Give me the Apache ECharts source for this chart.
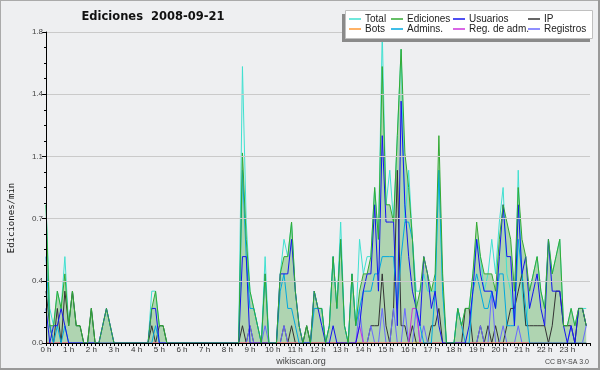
<!DOCTYPE html>
<html><head><meta charset="utf-8">
<script src="https://cdn.jsdelivr.net/npm/echarts@6/dist/echarts.min.js"></script>
<style>html,body{margin:0;padding:0;background:#eeeff1}#c{width:600px;height:370px}</style>
</head><body><div id="c"></div>
<script>
// 10-minute bins (144 per day), values in edits/min
const hourLabels = ['0 h','1 h','2 h','3 h','4 h','5 h','6 h','7 h','8 h','9 h','10 h','11 h',
  '12 h','13 h','14 h','15 h','16 h','17 h','18 h','19 h','20 h','21 h','22 h','23 h'];
const seriesNames = ['Total','Ediciones','Usuarios','IP','Bots','Admins.','Reg. de adm.','Registros'];

const total = [
 .8,.2,.1,.3,.2,.5,.1,.3,.1,.1,0,0,
 .2,0,0,.1,.2,.1,0,0,0,0,0,0,
 0,0,0,0,.3,.3,.1,.1,0,0,0,0,
 0,0,0,0,0,0,0,0,0,0,0,0,
 0,0,0,0,1.6,.7,.3,.2,.1,0,.5,0,
 0,0,.4,.6,.5,.7,.3,.1,0,.1,0,.3,
 .2,.2,0,.1,.5,.2,.7,.1,0,.4,.1,.6,
 .4,.5,.5,.9,.6,1.8,.8,1.0,.7,1.2,1.7,.7,
 1.0,.6,.3,.3,.4,.3,.3,.3,1.0,.3,0,0,
 0,.2,.1,.2,.2,.4,.6,.5,.3,.4,.6,.4,
 .7,.9,.4,.3,.1,1.0,.3,.1,.3,.4,.5,.3,
 .2,.6,.4,.5,.6,.1,.1,.2,.1,.2,.2,.2];
const ediciones = [
 .8,.1,.1,.3,.2,.4,.1,.3,.1,.1,0,0,
 .2,0,0,.1,.2,.1,0,0,0,0,0,0,
 0,0,0,0,.2,.3,.1,.1,0,0,0,0,
 0,0,0,0,0,0,0,0,0,0,0,0,
 0,0,0,0,1.1,.6,.3,.2,.1,0,.4,0,
 0,0,.4,.5,.5,.7,.3,.1,0,.1,0,.3,
 .2,.2,0,.1,.5,.2,.6,.1,0,.4,.1,.3,
 .4,.4,.5,.9,.6,1.6,.8,.8,.7,1.2,1.7,1.1,
 .9,.6,.2,.3,.5,.4,.3,.4,1.2,.4,0,0,
 0,.2,.1,.2,.2,.4,.7,.5,.4,.4,.4,.3,
 .6,.8,.7,.6,.3,.9,.6,.5,.3,.4,.5,.3,
 .2,.6,.4,.5,.6,.1,.1,.2,.1,.2,.2,.1];
const usuarios = [
 .2,0,.1,.1,.2,.1,0,0,0,0,0,0,
 0,0,0,.1,.2,.1,0,0,0,0,0,0,
 0,0,0,0,.2,.2,0,0,0,0,0,0,
 0,0,0,0,0,0,0,0,0,0,0,0,
 0,0,0,0,.5,.5,0,0,0,0,0,0,
 0,0,.4,.4,.4,.6,.3,.1,0,0,0,.3,
 .2,.1,0,0,.1,0,0,0,0,0,0,.1,
 .3,.4,.4,.8,.3,1.2,.7,.7,.7,.1,1.4,.8,
 .5,.3,.2,.1,.5,.4,.2,.3,.1,0,0,0,
 0,0,0,0,.1,.3,.6,.4,.3,.3,.3,.2,
 .5,.8,.5,.5,.1,.8,.4,.5,.2,.3,.4,.2,
 .1,.6,.3,.3,.3,.1,0,.1,0,.2,.2,.1];
const ip = [
 .3,.1,0,.2,0,.3,.1,.3,.1,.1,0,0,
 .2,0,0,0,0,0,0,0,0,0,0,0,
 0,0,0,0,.1,0,.1,.1,0,0,0,0,
 0,0,0,0,0,0,0,0,0,0,0,0,
 0,0,0,0,.1,0,.1,0,0,0,0,0,
 0,0,0,.1,0,.1,0,0,0,.1,0,0,
 0,0,0,0,0,0,0,0,0,0,0,0,
 0,0,.1,.1,.1,.4,.1,0,.2,1.0,.1,.1,
 0,.1,0,0,0,0,.1,.1,.2,0,0,0,
 0,0,0,.2,.2,0,0,.1,0,.1,0,.1,
 0,0,.1,.2,.2,.3,.4,.1,.1,.1,.1,.1,
 .1,0,.1,.3,.3,.1,.1,.1,0,.2,.2,.1];
const bots = new Array(144).fill(0);
const admins = [
 .5,.1,0,.1,0,.1,0,0,0,0,0,0,
 0,0,0,0,0,0,0,0,0,0,0,0,
 0,0,0,0,0,.1,0,0,0,0,0,0,
 0,0,0,0,0,0,0,0,0,0,0,0,
 0,0,0,0,1.0,.5,.2,.2,.1,0,.4,0,
 0,0,.3,.4,.2,.2,.1,0,0,0,0,.2,
 .2,.2,0,.1,.5,.2,.6,.1,0,.4,.1,.2,
 .3,.3,.3,.4,.4,.5,.5,.5,.5,.2,.5,.7,
 .7,.6,.2,.1,0,0,0,.3,1.0,.3,0,0,
 0,.2,.1,0,0,.3,.4,.3,.2,.2,.3,.2,
 .4,.4,.1,.1,.1,.6,.4,.2,0,0,0,0,
 0,0,0,0,0,0,0,0,0,0,0,0];
const regAdm = [
 0,0,0,0,0,0,0,0,0,0,0,0,
 0,0,0,0,0,0,0,0,0,0,0,0,
 0,0,0,0,0,0,0,0,0,0,0,0,
 0,0,0,0,0,0,0,0,0,0,0,0,
 0,0,0,0,0,0,0,0,0,0,0,0,
 0,0,0,0,0,0,0,0,0,0,0,0,
 0,0,0,0,0,0,0,0,0,0,0,.1,
 0,0,0,0,0,0,0,0,0,0,0,0,
 0,.2,.2,0,0,0,0,0,0,0,0,0,
 0,0,0,0,0,0,0,0,0,0,0,0,
 0,0,0,0,0,0,0,0,0,0,0,0,
 0,0,0,0,0,0,0,0,0,0,0,0];
const registros = [
 0,0,0,0,0,0,0,0,0,0,0,0,
 0,0,0,0,0,0,0,0,0,0,0,0,
 0,0,0,0,0,0,0,0,0,0,0,0,
 0,0,0,0,0,0,0,0,0,0,0,0,
 0,0,0,0,0,0,.1,0,0,0,.1,0,
 0,0,0,.1,0,0,0,0,0,0,0,0,
 0,0,0,0,0,0,0,0,0,0,0,.2,
 0,0,.1,0,0,.2,0,0,.2,0,0,.2,
 0,0,.2,0,.1,0,0,0,0,0,0,0,
 0,0,0,0,0,0,0,.1,0,0,.3,0,
 0,.1,0,0,0,.1,0,0,0,0,0,0,
 0,0,0,0,0,0,0,.1,0,0,0,.1];

const pairs = a => a.map((v, i) => [i, v]);
const lineSeries = (name, data, color, z) => ({
  name, type: 'line', data: pairs(data), showSymbol: false, symbol: 'none',
  color, lineStyle: { color, width: 1 }, z, animation: false
});

const chart = echarts.init(document.getElementById('c'), null, { renderer: 'canvas' });
const F = 'Liberation Sans, Arial, sans-serif';
const legendCol = (left, names) => ({
  orient: 'vertical', left, top: 14, padding: 0, itemGap: 0, itemWidth: 12, itemHeight: 1.5,
  icon: 'rect', selectedMode: false, z: 60, data: names,
  textStyle: { fontFamily: F, fontSize: 10, color: '#222', lineHeight: 10, padding: [0, 0, 0, -1] }
});
chart.setOption({
  backgroundColor: '#eeeff1',
  animation: false,
  grid: { left: 46, right: 10, top: 32, bottom: 27 },
  legend: [
    legendCol(349, ['Total', 'Bots']),
    legendCol(391, ['Ediciones', 'Admins.']),
    legendCol(453, ['Usuarios', 'Reg. de adm.']),
    legendCol(528, ['IP', 'Registros'])
  ],
  xAxis: {
    type: 'value', min: 0, max: 144, interval: 6, z: 10,
    axisLine: { lineStyle: { color: '#000', width: 1 } },
    axisTick: { show: true, length: 3, lineStyle: { color: '#000' } },
    minorTick: { show: true, splitNumber: 6, length: 3, lineStyle: { color: '#000' } },
    splitLine: { show: false },
    axisLabel: { fontFamily: F, fontSize: 8, color: '#333', margin: 3,
      formatter: v => hourLabels[v / 6] || '' }
  },
  yAxis: {
    type: 'value', min: 0, max: 1.8, interval: 0.36, z: 10,
    axisLine: { show: true, lineStyle: { color: '#000', width: 1 } },
    axisTick: { show: true, length: 4, lineStyle: { color: '#000' } },
    minorTick: { show: true, splitNumber: 4, length: 2, lineStyle: { color: '#000' } },
    splitLine: { show: true, lineStyle: { color: '#cacaca', width: 1 } },
    axisLabel: { fontFamily: F, fontSize: 8, color: '#444', margin: 3,
      formatter: v => v.toFixed(1) }
  },
  series: [
    { name: 'Ediciones', type: 'line', data: pairs(ediciones), showSymbol: false, symbol: 'none',
      color: '#33aa33', lineStyle: { width: 0, color: '#33aa33' },
      areaStyle: { color: 'rgba(50,160,50,0.48)' }, z: 1 },
    lineSeries('Total', total, '#40e0d0', 2),
    lineSeries('IP', ip, '#333333', 3),
    lineSeries('Registros', registros, '#6a6aff', 3),
    lineSeries('Reg. de adm.', regAdm, '#cc33dd', 3),
    lineSeries('Bots', bots, '#ff9933', 3),
    lineSeries('Admins.', admins, '#00a8e0', 4),
    lineSeries('Usuarios', usuarios, '#1515ee', 5),
    lineSeries('Ediciones', ediciones, '#33aa33', 6)
  ],
  graphic: [
    { type: 'line', shape: { x1: 0.5, y1: 0, x2: 0.5, y2: 370 }, style: { stroke: '#aaa', lineWidth: 1 }, z: 90 },
    { type: 'line', shape: { x1: 0, y1: 0.5, x2: 600, y2: 0.5 }, style: { stroke: '#aaa', lineWidth: 1 }, z: 90 },
    { type: 'rect', shape: { x: 598, y: 0, width: 2, height: 370 }, style: { fill: '#999' }, z: 90 },
    { type: 'rect', shape: { x: 0, y: 368, width: 600, height: 2 }, style: { fill: '#999' }, z: 90 },
    { type: 'rect', shape: { x: 342, y: 14, width: 248, height: 28 }, style: { fill: '#8a8a8a' }, z: 50 },
    { type: 'rect', shape: { x: 345.5, y: 10.5, width: 247, height: 28 }, style: { fill: '#fff', stroke: '#c0c0c0', lineWidth: 1 }, z: 51 },
    { type: 'text', x: 153, y: 17, z: 60, style: { text: 'Ediciones  2008-09-21', fontFamily: 'DejaVu Sans', fontWeight: 'bold', fontSize: 11.5, fill: '#111', textAlign: 'center', textVerticalAlign: 'middle' } },
    { type: 'text', x: 12, y: 218, rotation: Math.PI / 2, z: 60, style: { text: 'Ediciones/min', fontFamily: 'DejaVu Sans Mono', fontSize: 9, fill: '#111', textAlign: 'center', textVerticalAlign: 'middle' } },
    { type: 'text', x: 301, y: 362, z: 60, style: { text: 'wikiscan.org', fontFamily: F, fontSize: 9, fill: '#444', textAlign: 'center', textVerticalAlign: 'middle' } },
    { type: 'text', x: 589, y: 362, z: 60, style: { text: 'CC BY-SA 3.0', fontFamily: F, fontSize: 7, fill: '#444', textAlign: 'right', textVerticalAlign: 'middle' } }
  ]
});
</script></body></html>
